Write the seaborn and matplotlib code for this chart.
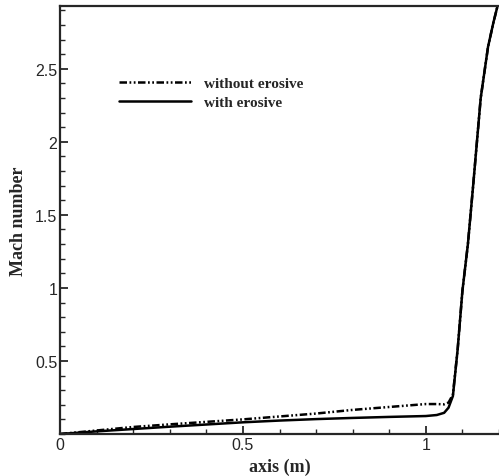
import pandas as pd
import matplotlib.pyplot as plt
import seaborn as sns
from matplotlib.ticker import MultipleLocator, FixedLocator

# Données
axis_m = [0, 0.1, 0.2, 0.3, 0.4, 0.5, 0.6, 0.7, 0.8, 0.9, 1.0, 1.03, 1.05,
          1.062, 1.074, 1.087, 1.1, 1.115, 1.13, 1.15, 1.17, 1.185, 1.2]
mach_with = [0, 0.018, 0.034, 0.05, 0.065, 0.08, 0.092, 0.102, 0.11, 0.117,
             0.123, 0.13, 0.145, 0.18, 0.26, 0.58, 0.98, 1.3, 1.72, 2.3,
             2.65, 2.82, 2.97]
mach_without = [0, 0.024, 0.048, 0.066, 0.083, 0.10, 0.12, 0.14, 0.165, 0.185,
                0.205, 0.205, 0.203, 0.215, 0.27, 0.58, 0.98, 1.3, 1.72, 2.3,
                2.65, 2.82, 2.97]

df = pd.DataFrame({'x': axis_m, 'with': mach_with, 'without': mach_without})

sns.set_style("ticks")
plt.rcParams['font.family'] = ['Liberation Sans', 'DejaVu Sans']

fig = plt.figure(figsize=(4.99, 4.77), dpi=100)
ax = fig.add_axes([60 / 499, 1 - 435 / 477, 1 - 60 / 499, (435 - 7) / 477])

sns.lineplot(data=df, x='x', y='without', ax=ax, color='black', lw=1.8,
             label='without erosive', sort=False)
ax.lines[-1].set_dashes([3, 1, 0.7, 1, 0.7, 1])
sns.lineplot(data=df, x='x', y='with', ax=ax, color='black', lw=1.8,
             label='with erosive', sort=False)

ax.set_xlim(0, 1.2)
ax.set_ylim(0, 2.93)

ax.xaxis.set_major_locator(FixedLocator([0, 0.5, 1]))
ax.xaxis.set_minor_locator(MultipleLocator(0.1))
ax.yaxis.set_major_locator(FixedLocator([0.5, 1, 1.5, 2, 2.5]))
ax.yaxis.set_minor_locator(MultipleLocator(0.1))
ax.set_xticklabels(['0', '0.5', '1'])
ax.set_yticklabels(['0.5', '1', '1.5', '2', '2.5'])

ax.tick_params(which='major', direction='in', length=6, width=1.3,
               labelsize=11.5, pad=2, top=False, right=False)
ax.tick_params(which='minor', direction='in', length=3.5, width=1.0,
               top=False, right=False)
for side in ['left', 'bottom', 'top']:
    ax.spines[side].set_linewidth(1.6)
ax.spines['right'].set_visible(False)

ax.set_xlabel('axis (m)', family='Liberation Serif', fontweight='bold',
              fontsize=13, labelpad=4)
ax.set_ylabel('Mach number', family='Liberation Serif', fontweight='bold',
              fontsize=13, labelpad=6)

leg = ax.legend(loc='upper left', bbox_to_anchor=(0.134, 0.835), frameon=False,
                prop={'family': 'Liberation Serif', 'weight': 'bold', 'size': 11},
                handlelength=4.7, handletextpad=0.85, labelspacing=0.35,
                borderpad=0, borderaxespad=0)
for h in leg.get_lines():
    h.set_linewidth(1.8)

plt.savefig('out.png', dpi=100)
